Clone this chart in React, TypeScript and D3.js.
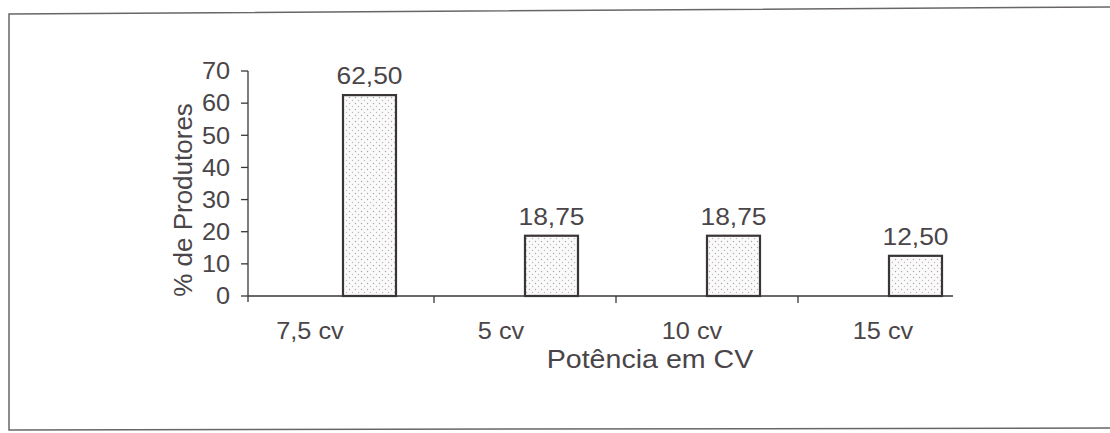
import React from 'react';
import * as d3 from 'd3';

const categories = ['7,5 cv', '5 cv', '10 cv', '15 cv'];
const values = [62.5, 18.75, 18.75, 12.5];
const valueLabels = ['62,50', '18,75', '18,75', '12,50'];
const yTicks = [0, 10, 20, 30, 40, 50, 60, 70];

const W = 1110;
const H = 433;
const FONT = 'Arial, "Liberation Sans", Helvetica, sans-serif';
const INK = '#3a3538';
const TEXT = '#4a4548';

// texto um pouco esticado na horizontal, como no original digitalizado
const T = ({ x, y, anchor = 'middle', size = 24, dy, children }: any) => (
  <text transform={`translate(${x},${y}) scale(1.1,1)`} textAnchor={anchor} dy={dy}
    fontFamily={FONT} fontSize={size} fill={TEXT}>{children}</text>
);

const App = () => {
  const x = d3.scaleBand<string>().domain(categories).range([252, 980]).padding(0);
  const xLabel = d3.scalePoint<string>().domain(categories).range([310, 883]);
  const y = d3.scaleLinear().domain([0, 70]).range([296, 71]);
  const barW = 53;
  const barOffset = 91;

  return (
    <svg width={W} height={H} style={{ position: 'absolute', left: 0, top: 0, background: '#fff' }}>
      <defs>
        <pattern id="dots" width="6" height="6" patternUnits="userSpaceOnUse">
          <rect width="6" height="6" fill="#fbfafa" />
          <circle cx="1.5" cy="1.5" r="0.7" fill="#a9a4a6" />
          <circle cx="4.5" cy="4.5" r="0.7" fill="#bdb8ba" />
        </pattern>
      </defs>

      {/* moldura */}
      <path d={`M${W},7 L9,14 L9,430 L${W},428`} fill="none" stroke="#6a6668" strokeWidth={1.5} />

      {/* eixo Y */}
      <line x1={248} x2={248} y1={y(70)} y2={y(0) + 6} stroke={INK} strokeWidth={1.3} />
      {yTicks.map(t => (
        <g key={t}>
          <line x1={241} x2={248} y1={y(t)} y2={y(t)} stroke={INK} strokeWidth={1.3} />
          <T x={230} y={y(t)} dy="0.36em" anchor="end" size={23}>{t}</T>
        </g>
      ))}
      <text transform={`translate(192,200) rotate(-90)`} textAnchor="middle" fontFamily={FONT} fontSize={26} fill={TEXT}>% de Produtores</text>

      {/* eixo X */}
      <line x1={248} x2={953} y1={y(0)} y2={y(0)} stroke={INK} strokeWidth={1.3} />
      {categories.slice(1).map(c => (
        <line key={c} x1={x(c)!} x2={x(c)!} y1={y(0)} y2={y(0) + 7} stroke={INK} strokeWidth={1.3} />
      ))}
      {categories.map(c => (
        <T key={c} x={xLabel(c)!} y={339} size={23}>{c}</T>
      ))}
      <T x={650} y={368} size={26}>Potência em CV</T>

      {/* barras */}
      {categories.map((c, i) => (
        <g key={c}>
          <rect x={x(c)! + barOffset} y={y(values[i])} width={barW} height={y(0) - y(values[i])}
            fill="url(#dots)" stroke={INK} strokeWidth={2.2} />
          <T x={x(c)! + barOffset + barW / 2} y={y(values[i]) - 11} size={24}>{valueLabels[i]}</T>
        </g>
      ))}
    </svg>
  );
};

export default App;
